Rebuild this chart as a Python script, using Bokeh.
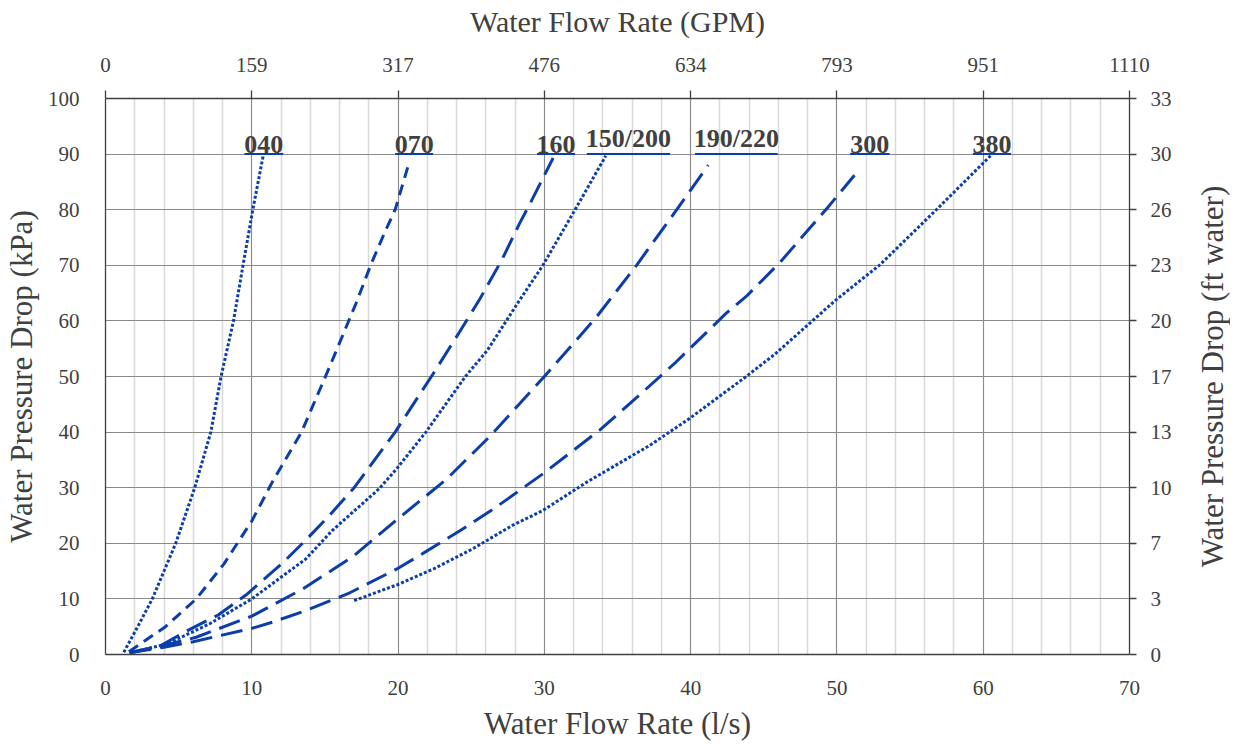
import math
from bokeh.plotting import figure
from bokeh.layouts import row
from bokeh.models import LinearAxis, SingleIntervalTicker, Range1d, ColumnDataSource
from bokeh.core.properties import value
from bokeh.embed import file_html
from bokeh.resources import INLINE

# ---- data ----
x_040 = [1.25, 2.2, 3.2, 4.8, 6.1, 7.2, 7.9, 8.75, 9.4, 10.07, 10.8]
y_040 = [0.4, 5, 10, 20, 30, 40, 50, 60, 70, 80, 90]

x_070 = [1.6, 4.1, 6.2, 8.1, 10.0, 11.4, 13.4, 15.2, 17.1, 18.2, 19.1, 19.8, 20.7]
y_070 = [0.5, 5, 10, 16.3, 24, 31, 40, 51, 63, 70.5, 76, 80, 88]

x_160 = [1.65, 3.7, 5.6, 7.7, 9.6, 12.0, 13.7, 15.3, 17.0, 19.8, 22.4, 24.2, 25.6, 27.1, 28.3, 29.1, 30.0, 30.6]
y_160 = [0.3, 1.5, 4.3, 7.1, 10.7, 16.2, 20.6, 25, 30, 40, 50.5, 58, 64, 71, 77.5, 81.5, 86.2, 89.3]

x_150 = [1.65, 4.2, 7.1, 10.0, 13.7, 15.5, 18.7, 19.9, 21.9, 24.6, 26.1, 28.3, 29.9, 32.1, 34.2]
y_150 = [0.3, 1.9, 5.5, 10, 17.2, 22.3, 29.8, 33.4, 40, 50, 54.7, 63.7, 70, 80, 89.7]

x_190 = [1.65, 3.5, 6.2, 10.0, 13.5, 16.9, 19.8, 23.3, 26.3, 30.0, 33.5, 36.3, 39.1, 41.2]
y_190 = [0.3, 1.3, 3.1, 6.9, 11.8, 17.6, 24, 31.5, 39.3, 50, 60.5, 70, 80.2, 88]

x_300 = [1.65, 4.0, 6.0, 7.5, 10.0, 11.4, 13.8, 15.4, 16.7, 20.0, 21.9, 24.2, 26.7, 29.9, 33.8, 36.3, 39.0, 42.4, 43.8, 46.1, 49.4, 51.2]
y_300 = [0.3, 1.3, 2.3, 3.2, 4.7, 5.8, 8.0, 9.7, 11.1, 15.5, 18.5, 22.2, 26.5, 32.5, 40.4, 46.2, 52.6, 61.3, 64.4, 70.5, 80.5, 86.2]

x_380 = [17.0, 20.1, 22.5, 25.1, 27.8, 29.9, 32.9, 37.2, 39.9, 43.8, 45.8, 49.9, 52.9, 56.8, 60.5]
y_380 = [9.7, 12.7, 15.5, 19, 23.2, 25.9, 31, 37.6, 42.4, 50, 54.1, 63.7, 70, 80, 89.7]

label_names = ["040", "070", "160", "150/200", "190/220", "300", "380"]
label_x0 = [9.5, 19.8, 29.5, 32.9, 40.3, 50.9, 59.3]
label_x1 = [12.15, 22.4, 32.1, 38.6, 45.95, 53.6, 61.9]
label_y = [90, 90, 90, 90, 90, 90, 90]

gpm_labels = ["0", "159", "317", "476", "634", "793", "951", "1110"]
ft_labels = ["0", "3", "7", "10", "13", "17", "20", "23", "26", "30", "33"]

BLUE = "#0b3dab"
TXT = "#404040"
FONT = "Liberation Serif"

BL, BR = 100, 46
MAIN_W = BL + 1024 + BR

p = figure(frame_width=1024, frame_height=556, output_backend="svg", toolbar_location=None,
           x_range=Range1d(0, 70), y_range=Range1d(0, 100),
           min_border_left=BL, min_border_right=BR, min_border_top=98, min_border_bottom=82,
           x_axis_location=None, y_axis_location=None)
p.outline_line_color = None
p.background_fill_color = "white"
p.border_fill_color = "white"

xt = SingleIntervalTicker(interval=10, num_minor_ticks=5)
yt = SingleIntervalTicker(interval=10, num_minor_ticks=0)

def style(ax, tick_out, standoff):
    ax.axis_line_color = "#404040"
    ax.axis_line_width = 1.3
    ax.major_tick_line_color = "#404040"
    ax.major_tick_line_width = 1.3
    ax.major_tick_out = tick_out
    ax.major_tick_in = 0
    ax.minor_tick_line_color = None
    ax.major_label_text_font = FONT
    ax.major_label_text_font_size = "21px"
    ax.major_label_text_color = TXT
    ax.major_label_standoff = standoff
    ax.axis_label_text_font = FONT
    ax.axis_label_text_font_size = "31px"
    ax.axis_label_text_font_style = "normal"
    ax.axis_label_text_color = TXT

bottom = LinearAxis(ticker=xt, axis_label="Water Flow Rate (l/s)")
style(bottom, 0, 22)
bottom.axis_label_standoff = 8
p.add_layout(bottom, "below")

top = LinearAxis(ticker=xt, axis_label="Water Flow Rate (GPM)",
                 major_label_overrides={i * 10: s for i, s in enumerate(gpm_labels)})
style(top, 8, 19)
top.axis_label_text_font_size = "30px"
top.axis_label_standoff = 17
p.add_layout(top, "above")

left = LinearAxis(ticker=yt, axis_label="Water Pressure Drop (kPa)")
style(left, 0, 26)
left.axis_label_standoff = 6
p.add_layout(left, "left")

right = LinearAxis(ticker=yt,
                   major_label_overrides={i * 10: s for i, s in enumerate(ft_labels)})
style(right, 7, 14)
p.add_layout(right, "right")

p.xgrid.ticker = xt
p.ygrid.ticker = yt
p.xgrid.grid_line_color = "#8a8a8a"
p.xgrid.grid_line_width = 1
p.xgrid.minor_grid_line_color = "#d9d9d9"
p.xgrid.minor_grid_line_width = 1.5
p.ygrid.grid_line_color = "#8a8a8a"
p.ygrid.grid_line_width = 1

dot = "3 2"
dash = "11 7"
longdash = "22 9"
series = [
    (x_040, y_040, dot),
    (x_070, y_070, dash),
    (x_160, y_160, longdash),
    (x_150, y_150, dot),
    (x_190, y_190, longdash),
    (x_300, y_300, longdash),
    (x_380, y_380, dot),
]
for xs, ys, d in series:
    p.line(xs, ys, line_color=BLUE, line_width=3, line_dash=d, line_cap="butt", line_join="round")

lab = ColumnDataSource(dict(
    name=label_names,
    x0=label_x0, x1=label_x1, y=label_y,
    xc=[(a + b) / 2 for a, b in zip(label_x0, label_x1)],
))
p.segment(x0="x0", y0="y", x1="x1", y1="y", source=lab, line_color=BLUE, line_width=2)
p.text(x="xc", y="y", text="name", source=lab, text_align="center", text_baseline="bottom",
       text_font=value(FONT), text_font_style="bold", text_font_size="26px", text_color=TXT,
       y_offset=-1)

# narrow side panel holding the right-hand axis title (reads bottom-to-top)
side_w = 1225 - MAIN_W
p2 = figure(frame_width=side_w, frame_height=556, output_backend="svg", toolbar_location=None,
            x_range=Range1d(0, side_w), y_range=p.y_range,
            min_border_left=0, min_border_right=0, min_border_top=98, min_border_bottom=82,
            x_axis_location=None, y_axis_location=None)
p2.outline_line_color = None
p2.grid.visible = False
p2.border_fill_color = "white"
p2.background_fill_color = "white"
p2.text(x=[side_w - 18], y=[50], text=["Water Pressure Drop (ft water)"],
        angle=math.pi / 2, text_align="center", text_baseline="middle",
        text_font=value(FONT), text_font_size="31px", text_color=TXT)

layout = row(p, p2, spacing=0)
open("out.html", "w").write(file_html(layout, INLINE))
